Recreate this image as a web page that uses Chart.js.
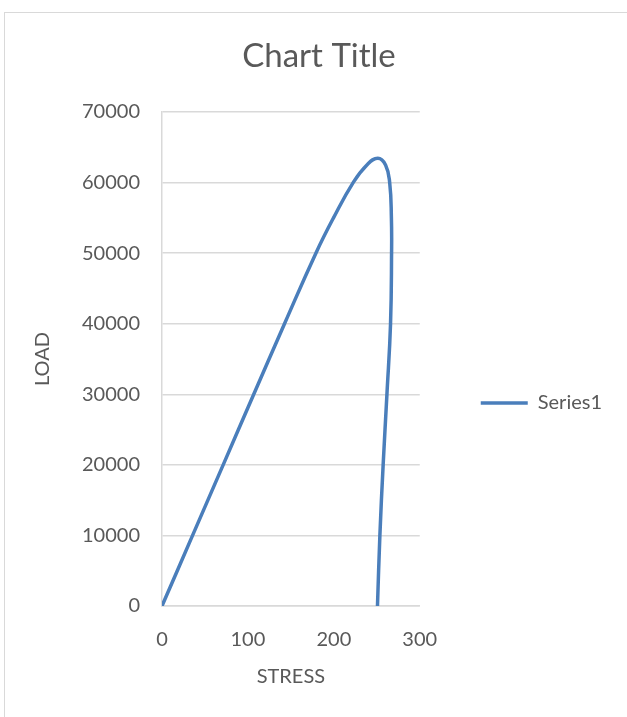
<!DOCTYPE html>
<html>
<head>
<meta charset="utf-8">
<script src="https://cdn.jsdelivr.net/npm/chart.js@4/dist/chart.umd.min.js"></script>
<style>
  html, body { margin: 0; padding: 0; background: #ffffff; overflow: hidden; width: 627px; height: 717px; }
  #frame { position: absolute; left: 4px; top: 12px; width: 700px; height: 800px; border: 1px solid #d9d9d9; box-sizing: border-box; }
  #chart { position: absolute; left: 0; top: 0; }
</style>
</head>
<body>
<div id="frame"></div>
<canvas id="chart" width="627" height="806"></canvas>
<script>
// Load vs. stress curve: rising branch, peak, then unloading branch back to zero load
const stress = [0, 35.6, 71.2, 106.8, 142.6, 179.1, 199.6, 222.5, 238.5, 251.2, 260.2, 265, 267, 267.2, 266, 261.8, 257.4, 253.6, 250.8];
const load   = [0, 10000, 20000, 30000, 40000, 50000, 55000, 60000, 62500, 63450, 62500, 60000, 55000, 50000, 40000, 30000, 20000, 10000, 0];
const xTicks = [0, 100, 200, 300];
const yTicks = [0, 10000, 20000, 30000, 40000, 50000, 60000, 70000];
const seriesName = 'Series1';

const points = stress.map((s, i) => ({ x: s, y: load[i] }));
const textColor = '#595959';
const gridColor = '#d9d9d9';
const fontFamily = 'Lato, "Open Sans", sans-serif';

new Chart(document.getElementById('chart'), {
  type: 'scatter',
  data: {
    datasets: [{
      label: seriesName,
      data: points,
      showLine: true,
      borderColor: '#4a7ebb',
      backgroundColor: '#4a7ebb',
      borderWidth: 3.5,
      pointRadius: 0,
      tension: 0.45
    }]
  },
  options: {
    responsive: false,
    animation: false,
    devicePixelRatio: 1,
    layout: { padding: { left: 26, right: 15, top: 0, bottom: 0 } },
    plugins: {
      title: {
        display: true,
        text: 'Chart Title',
        color: textColor,
        font: { family: fontFamily, size: 33, weight: 'normal' },
        padding: { top: 36.2, bottom: 36.2 }
      },
      legend: {
        position: 'right',
        maxWidth: 300,
        labels: {
          usePointStyle: true,
          pointStyle: 'line',
          pointStyleWidth: 47,
          padding: 61,
          color: textColor,
          font: { family: fontFamily, size: 20 }
        }
      },
      tooltip: { enabled: false }
    },
    scales: {
      x: {
        type: 'linear',
        min: xTicks[0],
        max: xTicks[xTicks.length - 1],
        afterBuildTicks: s => { s.ticks = xTicks.map(v => ({ value: v })); },
        afterFit: s => { s.height = 200; },
        grid: { display: false, drawTicks: false },
        border: { display: true, color: gridColor, width: 1.5 },
        ticks: { color: textColor, padding: 22, font: { family: fontFamily, size: 20 } },
        title: {
          display: true,
          text: 'STRESS',
          color: textColor,
          font: { family: fontFamily, size: 20 },
          padding: { top: 0, bottom: 117.3 }
        }
      },
      y: {
        type: 'linear',
        min: yTicks[0],
        max: yTicks[yTicks.length - 1],
        afterBuildTicks: s => { s.ticks = yTicks.map(v => ({ value: v })); },
        afterFit: s => { s.width = 136; },
        grid: { color: gridColor, lineWidth: 1.5, drawTicks: false },
        border: { display: true, color: gridColor, width: 1.5 },
        ticks: { color: textColor, padding: 22, font: { family: fontFamily, size: 20 }, callback: v => String(v) },
        title: {
          display: true,
          text: 'LOAD',
          color: textColor,
          font: { family: fontFamily, size: 20 },
          padding: { top: 5, bottom: 0 }
        }
      }
    }
  }
});
</script>
</body>
</html>
